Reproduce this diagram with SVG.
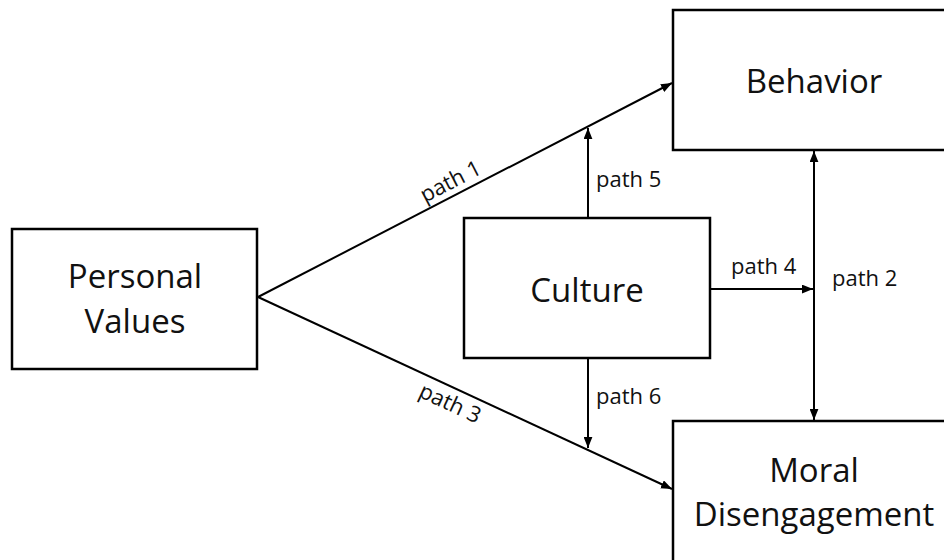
<svg xmlns="http://www.w3.org/2000/svg" width="944" height="560" viewBox="0 0 944 560">
<defs>
<marker id="ah" viewBox="0 0 10 8" refX="10" refY="4" markerWidth="11" markerHeight="9" markerUnits="userSpaceOnUse" orient="auto-start-reverse">
<path d="M0,0 L10,4 L0,8 z" fill="#000"/>
</marker>
<style>
.box{fill:#fff;stroke:#000;stroke-width:2.5}
.lbl{font-family:"Open Sans","Liberation Sans",sans-serif;font-size:33px;fill:#111;text-anchor:middle}
.pl{font-family:"Open Sans","Liberation Sans",sans-serif;font-size:22px;fill:#111}
.ln{fill:none;stroke:#000;stroke-width:2}
</style>
</defs>
<rect width="944" height="560" fill="#fff"/>
<g id="connectors">
<line class="ln" x1="258" y1="297" x2="672" y2="83" marker-end="url(#ah)"/>
<line class="ln" x1="258" y1="297" x2="672" y2="489" marker-end="url(#ah)"/>
<line class="ln" x1="588" y1="218" x2="588" y2="128" marker-end="url(#ah)"/>
<line class="ln" x1="588" y1="358" x2="588" y2="448" marker-end="url(#ah)"/>
<line class="ln" x1="710" y1="289" x2="813" y2="289" marker-end="url(#ah)"/>
<line class="ln" x1="814" y1="151" x2="814" y2="420" marker-start="url(#ah)" marker-end="url(#ah)"/>
<text class="pl" text-anchor="middle" x="454" y="188" transform="rotate(-27.3 454 188)">path 1</text>
<text class="pl" text-anchor="middle" x="447" y="410" transform="rotate(24.9 447 410)">path 3</text>
<text class="pl" x="596" y="187">path 5</text>
<text class="pl" x="596" y="404">path 6</text>
<text class="pl" x="731" y="274">path 4</text>
<text class="pl" x="832" y="286">path 2</text>
</g>
<g id="personal-values">
<rect class="box" x="12" y="229" width="245" height="140"/>
<text class="lbl" x="135" y="288">Personal</text>
<text class="lbl" x="135" y="333">Values</text>
</g>
<g id="culture">
<rect class="box" x="464" y="218" width="246" height="140"/>
<text class="lbl" x="587" y="302">Culture</text>
</g>
<g id="behavior">
<rect class="box" x="673" y="10" width="300" height="140"/>
<text class="lbl" x="814" y="93">Behavior</text>
</g>
<g id="moral-disengagement">
<rect class="box" x="673" y="421" width="300" height="160"/>
<text class="lbl" x="814" y="482">Moral</text>
<text class="lbl" x="814" y="526">Disengagement</text>
</g>
</svg>
